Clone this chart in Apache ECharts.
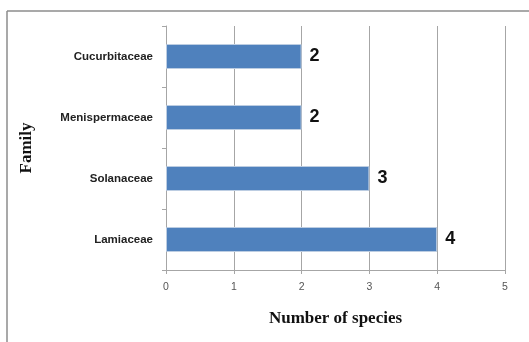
<!DOCTYPE html>
<html>
<head>
<meta charset="utf-8">
<script src="https://cdn.jsdelivr.net/npm/echarts@6/dist/echarts.min.js"></script>
<style>html,body{margin:0;padding:0;background:#fff;}#c{width:529px;height:342px;}</style>
</head>
<body>
<div id="c"></div>
<script>
var families = ['Lamiaceae', 'Solanaceae', 'Menispermaceae', 'Cucurbitaceae'];
var speciesCounts = [4, 3, 2, 2];
var xTicks = [0, 1, 2, 3, 4, 5];

var chart = echarts.init(document.getElementById('c'), null, {renderer: 'canvas'});
chart.setOption({
  animation: false,
  backgroundColor: '#ffffff',
  graphic: [
    {type: 'line', shape: {x1: 7, y1: 11, x2: 529, y2: 11}, style: {stroke: '#8c8c8c', lineWidth: 1.5}},
    {type: 'line', shape: {x1: 7, y1: 11, x2: 7, y2: 342}, style: {stroke: '#8c8c8c', lineWidth: 1.5}}
  ],
  grid: {left: 166, right: 24, top: 26, bottom: 72, containLabel: false},
  xAxis: {
    type: 'value',
    min: xTicks[0],
    max: xTicks[xTicks.length - 1],
    interval: 1,
    name: 'Number of species',
    nameLocation: 'middle',
    nameGap: 40,
    nameTextStyle: {fontFamily: 'Liberation Serif', fontWeight: 'bold', fontSize: 17, color: '#111'},
    axisLine: {show: true, lineStyle: {color: '#a6a6a6', width: 1}},
    axisTick: {show: true, length: 4, lineStyle: {color: '#a6a6a6'}},
    axisLabel: {color: '#555', fontSize: 10.5, margin: 12, fontFamily: 'Liberation Sans'},
    splitLine: {show: true, lineStyle: {color: '#a6a6a6', width: 1}}
  },
  yAxis: {
    type: 'category',
    data: families,
    name: 'Family',
    nameLocation: 'middle',
    nameRotate: 90,
    nameGap: 131,
    nameTextStyle: {fontFamily: 'Liberation Serif', fontWeight: 'bold', fontSize: 17, color: '#111'},
    axisLine: {show: true, lineStyle: {color: '#a6a6a6', width: 1}},
    axisTick: {show: true, length: 4, lineStyle: {color: '#a6a6a6'}},
    axisLabel: {color: '#222', fontSize: 11.5, fontWeight: 'bold', margin: 13, fontFamily: 'Liberation Sans'},
    splitLine: {show: false}
  },
  series: [{
    type: 'bar',
    data: speciesCounts,
    barWidth: 25,
    itemStyle: {color: '#4f81bd', borderColor: '#bccde2', borderWidth: 1},
    label: {show: true, position: 'right', distance: 8, fontSize: 18, fontWeight: 'bold', color: '#111', fontFamily: 'Liberation Sans'}
  }]
});
</script>
</body>
</html>
